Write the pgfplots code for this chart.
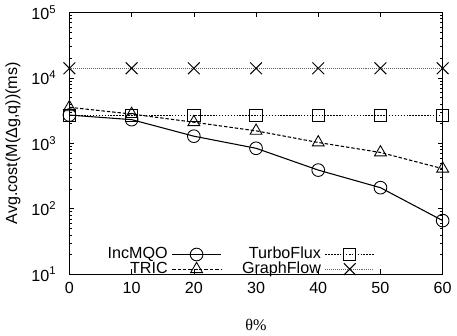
\documentclass[border=0pt]{standalone}
\usepackage{fontspec}
\setmainfont{Liberation Sans}
\newfontfamily\seriffont{Liberation Serif}
\usepackage{pgfplots}
\pgfplotsset{compat=1.18}
\newcommand\F{\fontsize{16.5}{19}\selectfont}
\begin{document}
\F
\begin{tikzpicture}
\begin{axis}[name=ax, scale only axis, width=382pt, height=268pt,
  ymode=log, xmin=0, xmax=60, ymin=10, ymax=1e5,
  xtick={0,10,...,60},
  ytick={10,100,1000,10000,100000},
  yticklabels={10\textsuperscript{1},10\textsuperscript{2},10\textsuperscript{3},10\textsuperscript{4},10\textsuperscript{5}},
  /pgf/number format/assume math mode=true,
  tick align=inside, tick pos=both,
  major tick length=5pt, minor tick length=3pt,
  every tick/.style={black, line width=0.6pt},
  axis line style={line width=1pt},
  tick label style={font=\F},
  label style={font=\F},
  yticklabel style={xshift=-8pt},
  xticklabel style={yshift=-3pt},
  xlabel style={yshift=-14pt},
  clip=false,
  xlabel={\seriffont θ\%},
  ylabel={Avg.cost(M(Δg,q))(ms)},
  legend columns=2,
  legend cell align=right,
  legend plot pos=right,
  legend image code/.code={\draw[mark repeat=2,mark phase=2,#1] plot coordinates {(0pt,0pt) (25pt,0pt) (50pt,0pt)};},
  legend style={draw=none, fill=none, font=\F, at={(0.102,0.0)}, anchor=south west, inner sep=0pt, yshift=-3pt,
    nodes={inner sep=0pt, text height=12pt, text depth=4pt},
    row sep=-1pt,
    /tikz/every odd column/.style={column sep=4pt},
    /tikz/every even column/.style={column sep=21pt}},
]
\addplot[black, line width=1.1pt, mark=o, mark size=6.5pt, mark options={solid, line width=0.9pt}]
  coordinates {(0,2700) (10,2300) (20,1285) (30,840) (40,390) (50,210) (60,66)};
\addlegendentry{IncMQO}
\addplot[black, line width=1.1pt, dash pattern=on 1.5pt off 1.5pt, mark=square, mark size=6.3pt, mark options={solid, line width=0.9pt}]
  coordinates {(0,2650) (10,2650) (20,2650) (30,2650) (40,2650) (50,2650) (60,2650)};
\addlegendentry{TurboFlux}
\addplot[black, line width=1.1pt, dash pattern=on 3.5pt off 2pt, mark=triangle, mark size=7pt, mark options={solid, line width=0.9pt}]
  coordinates {(0,3550) (10,2800) (20,2100) (30,1550) (40,1030) (50,725) (60,410)};
\addlegendentry{TRIC}
\addplot[black!60, line width=1.1pt, dash pattern=on 1pt off 1pt, mark=x, mark size=8.5pt, mark options={solid, black, line width=1pt}]
  coordinates {(0,14000) (10,14000) (20,14000) (30,14000) (40,14000) (50,14000) (60,14000)};
\addlegendentry{GraphFlow}
\end{axis}
\path ([shift={(-66pt,-59pt)}]ax.south west) rectangle ([shift={(9pt,11pt)}]ax.north east);
\end{tikzpicture}
\end{document}
